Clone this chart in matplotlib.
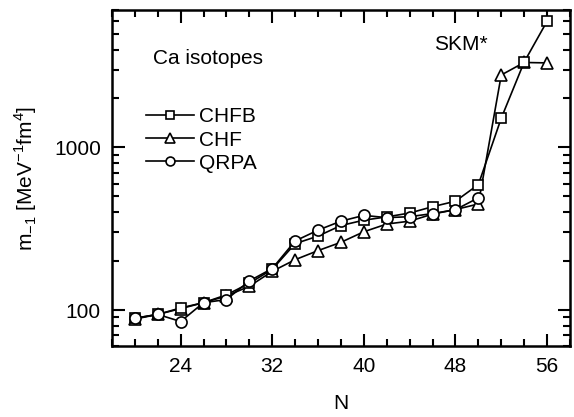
import matplotlib
matplotlib.use("Agg")
import matplotlib.pyplot as plt
from matplotlib.ticker import FixedLocator, MultipleLocator, LogLocator, NullFormatter

plt.rcParams['font.family'] = ['Liberation Sans', 'DejaVu Sans']

# Neutron number
n_chfb = [20, 22, 24, 26, 28, 30, 32, 34, 36, 38, 40, 42, 44, 46, 48, 50, 52, 54, 56]
n_chf = [20, 22, 24, 26, 28, 30, 32, 34, 36, 38, 40, 42, 44, 46, 48, 50, 52, 54, 56]
n_qrpa = [20, 22, 24, 26, 28, 30, 32, 34, 36, 38, 40, 42, 44, 46, 48, 50]

# m_-1 values
m_chfb = [89, 94, 103, 111, 124, 146, 178, 256, 285, 331, 357, 374, 395, 432, 467, 591, 1514, 3350, 5970]
m_chf = [88, 94, 102, 111, 122, 140, 173, 204, 232, 261, 303, 338, 352, 389, 415, 449, 2790, 3330, 3310]
m_qrpa = [89, 94, 85, 111, 116, 151, 180, 266, 310, 352, 382, 370, 375, 392, 414, 490]

fs = 15

fig = plt.figure(figsize=(5.74, 4.17), dpi=100)
ax = fig.add_axes([0.195, 0.170, 0.798, 0.806])

style = dict(color='black', lw=1.2, mfc='white', mec='black', mew=1.2)
ax.plot(n_chfb, m_chfb, marker='s', ms=7.5, label='CHFB', zorder=3, **style)
ax.plot(n_chf, m_chf, marker='^', ms=9, label='CHF', zorder=2, **style)
ax.plot(n_qrpa, m_qrpa, marker='o', ms=8, label='QRPA', zorder=4, **style)

ax.set_yscale('log')
ax.set_xlim(18, 58)
ax.set_ylim(60, 7000)

ax.xaxis.set_major_locator(FixedLocator([24, 32, 40, 48, 56]))
ax.xaxis.set_minor_locator(MultipleLocator(2))
ax.yaxis.set_major_locator(FixedLocator([100, 1000]))
ax.yaxis.set_minor_locator(LogLocator(base=10, subs=range(2, 10)))
ax.yaxis.set_minor_formatter(NullFormatter())
ax.set_yticklabels(['100', '1000'])

ax.tick_params(which='both', direction='in', top=True, right=True, width=1.5, labelsize=fs)
ax.tick_params(which='major', length=9)
ax.tick_params(which='minor', length=5)
ax.tick_params(axis='x', pad=8)
ax.tick_params(axis='y', pad=8)
for sp in ax.spines.values():
    sp.set_linewidth(1.8)

ax.set_xlabel('N', fontsize=fs, labelpad=13)
ax.set_ylabel(r'm$_{\mathregular{-1}}$ [MeV$^{\mathregular{-1}}$fm$^{\mathregular{4}}$]', fontsize=fs, labelpad=11)

ax.text(0.0895, 0.857, 'Ca isotopes', transform=ax.transAxes, fontsize=fs, va='center')
ax.text(0.703, 0.896, 'SKM*', transform=ax.transAxes, fontsize=fs, va='center')

ax.legend(loc='upper left', bbox_to_anchor=(0.057, 0.735), frameon=False, fontsize=fs,
          handlelength=2.3, handletextpad=0.25, labelspacing=0.2, borderaxespad=0,
          markerscale=0.8)

fig.savefig('out.png', dpi=100)
